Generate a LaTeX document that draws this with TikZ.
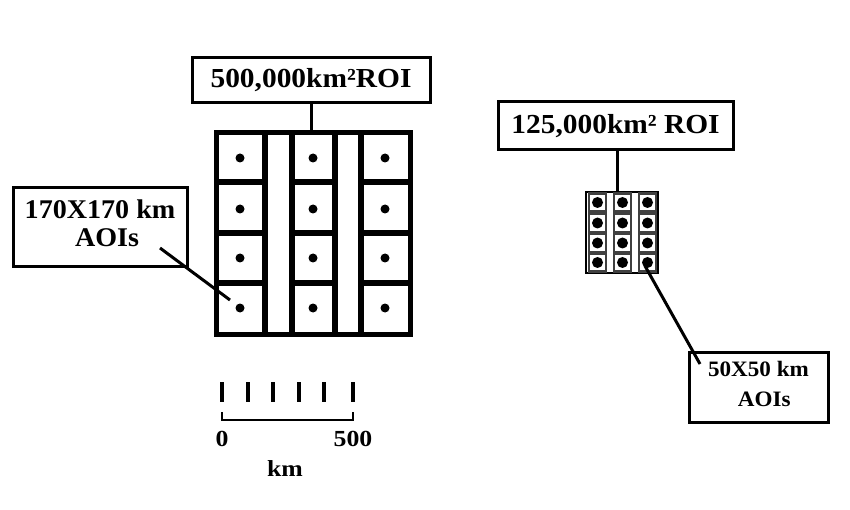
\documentclass[tikz,border=0pt]{standalone}
\usepackage{fontspec}
\setmainfont{Liberation Serif}
\usepackage{graphicx}
\newcommand\stretchtxt[3]{{\fontsize{#1}{#1}\selectfont\bfseries\scalebox{#2}[1]{#3}}}
\begin{document}
\begin{tikzpicture}[x=1pt,y=-1pt,
  lblbox/.style={draw, line width=3pt, inner sep=0pt, align=center},
  gline/.style={line width=6pt},
  hline/.style={line width=6.5pt},
  conn/.style={line width=3pt},
  bigdot/.style={circle, fill=black, inner sep=0pt, minimum size=9pt},
  smalldot/.style={circle, fill=black, inner sep=0pt, minimum size=11pt},
  cell/.style={draw=black!75, line width=2.5pt, fill=white, minimum width=17pt, minimum height=18pt, inner sep=0pt},
  tick/.style={line width=3.2pt}]
\useasboundingbox (0,0) rectangle (850,510);

% big ROI grid
\node[draw, line width=5pt, minimum width=194pt, minimum height=201pt, inner sep=0pt] (big) at (313,233.5) {};
\foreach \xx in {264.5,291.5,335,360.5}
  \draw[gline] (\xx,133) -- (\xx,334);
\foreach \xa/\xb in {216/264,291/335,360/410}
  \foreach \yy in {182,233,283}
    \draw[hline] (\xa,\yy) -- (\xb,\yy);
\foreach \xx [count=\i] in {240,313,385}
  \foreach \yy [count=\j] in {158,209,258,308}
    \node[bigdot] (bd\i\j) at (\xx,\yy) {};

% small ROI grid
\node[draw, fill=white, line width=2pt, minimum width=72pt, minimum height=81pt, inner sep=0pt] (small) at (622,232.5) {};
\foreach \xx [count=\i] in {597.5,622.5,647.5}
  \foreach \yy [count=\j] in {202.5,223,243,262.5}
  {
    \node[cell] (sc\i\j) at (\xx,\yy) {};
    \node[smalldot] (sd\i\j) at (\xx,\yy) {};
  }

% labels
\node[lblbox, minimum width=238pt, minimum height=45pt] (topbox) at (311,80.5) {\stretchtxt{27.5}{1.07}{500,000km²ROI}};
\node[lblbox, minimum width=235pt, minimum height=48pt] (rbox) at (615.5,126) {\stretchtxt{27.5}{1.07}{125,000km² ROI}};
\node[lblbox, minimum width=174pt, minimum height=79pt] (lbox) at (100,227.5) {\stretchtxt{27}{1.04}{\begin{tabular}{@{}c@{}}170X170 km\\[1pt]\ \ AOIs\end{tabular}}};
\node[lblbox, minimum width=139pt, minimum height=70pt] (rabox) at (758.5,387) {\raisebox{-4pt}{\stretchtxt{22}{1.05}{\begin{tabular}{@{}c@{}}50X50 km\\[8pt]\ \ AOIs\end{tabular}}}};

% connectors
\draw[conn] (topbox.south) -- (topbox.south |- big.north);
\coordinate (rx) at (617,0);
\draw[conn] (rx |- rbox.south) -- (rx |- small.north);
\coordinate (la) at (160,248);
\coordinate (lb) at (230,300);
\draw[conn] (la) -- (lb);
\coordinate (ra) at (645,266);
\coordinate (rb) at (700,364);
\draw[conn] (ra) -- (rb);

% scale bar
\foreach \xx in {222,248,273,299,324,353}
  \draw[tick] (\xx,382) -- (\xx,402);
\draw[line width=2.5pt] (222,412) -- (222,420) -- (353,420) -- (353,412);
\node (zero) at (222,438.5) {\stretchtxt{23}{1.12}{0}};
\node (fivehundred) at (353,438.5) {\stretchtxt{23}{1.12}{500}};
\node (kmlbl) at (285,469) {\stretchtxt{23}{1.12}{km}};
\end{tikzpicture}
\end{document}
